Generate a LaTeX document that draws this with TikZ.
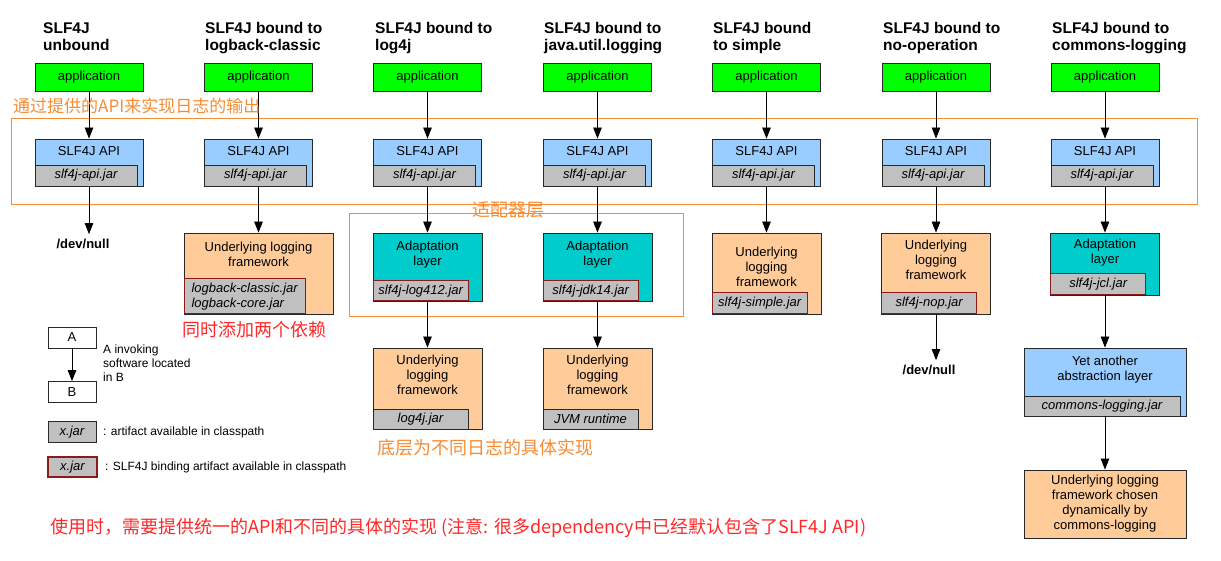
\documentclass[tikz,border=0pt]{standalone}
\usepackage{fontspec}
\setmainfont{Liberation Sans}
\newfontfamily\cjk{Noto Sans CJK SC}
\usetikzlibrary{arrows.meta,positioning}
\definecolor{appGreen}{RGB}{0,255,0}
\definecolor{apiBlue}{RGB}{153,204,255}
\definecolor{jarGray}{RGB}{192,192,192}
\definecolor{adaptTeal}{RGB}{0,204,204}
\definecolor{fwPeach}{RGB}{255,204,153}
\definecolor{bindRed}{RGB}{139,26,26}
\definecolor{boxLine}{RGB}{40,40,40}
\definecolor{markOrange}{RGB}{248,140,50}
\definecolor{markRed}{RGB}{255,40,40}
\newcommand{\boxfont}{\fontsize{13}{15}\selectfont}
\tikzset{
  outline/.style={draw=boxLine, line width=0.8pt, inner sep=0pt},
  appbox/.style={outline, fill=appGreen, minimum width=108, minimum height=28, font=\boxfont},
  apibox/.style={outline, fill=apiBlue, minimum width=108, minimum height=47},
  adaptbox/.style={outline, fill=adaptTeal, minimum width=109},
  fwbox/.style={outline, fill=fwPeach, minimum width=109},
  jarbox/.style={outline, fill=jarGray, minimum width=95, minimum height=21, font=\boxfont\itshape},
  bindjar/.style={jarbox, draw=bindRed, line width=1.2pt},
  boxtext/.style={align=center, inner sep=0pt, font=\boxfont},
  title/.style={align=left, inner sep=0pt, anchor=north west, font=\fontsize{15.5}{17}\selectfont\bfseries},
  devnull/.style={inner sep=0pt, outer ysep=5pt, font=\boxfont\bfseries},
  legend/.style={align=left, inner sep=0pt, anchor=west, font=\fontsize{12}{14}\selectfont},
  cnnote/.style={inner sep=0pt, font=\cjk\fontsize{18}{20}\selectfont},
  frame/.style={draw=markOrange, line width=0.8pt},
  arrow/.style={-{Triangle[length=11pt,width=8.5pt]}, line width=0.8pt}
}

\begin{document}
\begin{tikzpicture}[x=1pt,y=-1pt]
  \fill[white] (0,0) rectangle (1221,561);
  \useasboundingbox (0,0) rectangle (1221,561);

  % layer frames
  \draw[frame] (11,118) rectangle (1197,204);
  \draw[frame] (349,213) rectangle (683,316);

  % titles
  \node[title] (t1) at (43,22) {SLF4J\\unbound};
  \node[title] (t2) at (205,22) {SLF4J bound to\\logback-classic};
  \node[title] (t3) at (375,22) {SLF4J bound to\\log4j};
  \node[title] (t4) at (544,22) {SLF4J bound to\\java.util.logging};
  \node[title] (t5) at (713,22) {SLF4J bound\\to simple};
  \node[title] (t6) at (883,22) {SLF4J bound to\\no-operation};
  \node[title] (t7) at (1052,22) {SLF4J bound to\\commons-logging};

  % application + SLF4J API in every column
  \foreach \c/\cx in {1/89,2/258.5,3/427.5,4/597.5,5/766.5,6/936,7/1105}{
    \node[appbox] (app\c) at (\cx,77) {application};
    \node[apibox] (api\c) at (\cx,162.5) {};
    \node[boxtext] (apit\c) at (\cx,151) {SLF4J API};
    \node[jarbox, anchor=south west, minimum width=102] (apijar\c) at (api\c.south west) {slf4j-api.jar};
    \draw[arrow] (app\c) -- (api\c);
  }

  % unbound
  \node[devnull] (null1) at (83,244) {/dev/null};

  % logback
  \node[fwbox, minimum width=149, minimum height=81] (fw2) at (258.5,273.5) {};
  \node[boxtext] (fwt2) at (258.5,254.5) {Underlying logging\\framework};
  \node[bindjar, anchor=south west, minimum width=121, minimum height=35, align=left] (fwjar2) at (fw2.south west) {logback-classic.jar\\logback-core.jar};

  % log4j
  \node[adaptbox, minimum height=68] (adapt3) at (427.5,267) {};
  \node[boxtext] (adaptt3) at (427.5,254.5) {Adaptation\\layer};
  \node[bindjar, anchor=south west, minimum height=20] (adaptjar3) at (adapt3.south west) {slf4j-log412.jar};
  \node[fwbox, minimum height=81] (fw3) at (427.5,388.5) {};
  \node[boxtext] (fwt3) at (427.5,375) {Underlying\\logging\\framework};
  \node[jarbox, anchor=south west, minimum height=20] (fwjar3) at (fw3.south west) {log4j.jar};

  % java.util.logging
  \node[adaptbox, minimum height=68] (adapt4) at (597.5,267) {};
  \node[boxtext] (adaptt4) at (597.5,254.5) {Adaptation\\layer};
  \node[bindjar, anchor=south west, minimum height=20] (adaptjar4) at (adapt4.south west) {slf4j-jdk14.jar};
  \node[fwbox, minimum height=81] (fw4) at (597.5,388.5) {};
  \node[boxtext] (fwt4) at (597.5,375) {Underlying\\logging\\framework};
  \node[jarbox, anchor=south west, minimum height=20] (fwjar4) at (fw4.south west) {JVM runtime};

  % simple
  \node[fwbox, minimum height=81] (fw5) at (766.5,273.5) {};
  \node[boxtext] (fwt5) at (766.5,267) {Underlying\\logging\\framework};
  \node[bindjar, anchor=south west] (fwjar5) at (fw5.south west) {slf4j-simple.jar};

  % nop
  \node[fwbox, minimum height=81] (fw6) at (936,273.5) {};
  \node[boxtext] (fwt6) at (936,260) {Underlying\\logging\\framework};
  \node[bindjar, anchor=south west] (fwjar6) at (fw6.south west) {slf4j-nop.jar};
  \node[devnull] (null6) at (929,370) {/dev/null};

  % commons-logging
  \node[adaptbox, minimum height=62] (adapt7) at (1105,264) {};
  \node[boxtext] (adaptt7) at (1105,252.5) {Adaptation\\layer};
  \node[bindjar, anchor=south west] (adaptjar7) at (adapt7.south west) {slf4j-jcl.jar};
  \node[apibox, minimum width=162, minimum height=68] (abs7) at (1105,382) {};
  \node[boxtext] (abst7) at (1105,369.5) {Yet another\\abstraction layer};
  \node[jarbox, anchor=south west, minimum width=156, minimum height=20] (absjar7) at (abs7.south west) {commons-logging.jar};
  \node[fwbox, boxtext, minimum width=162, minimum height=68] (fw7) at (1105,504) {Underlying logging\\framework chosen\\dynamically by\\commons-logging};

  \draw[arrow] (api1.south) -- (api1.south |- null1.north);
  \draw[arrow] (api2) -- (fw2);
  \draw[arrow] (api3) -- (adapt3);
  \draw[arrow] (adapt3) -- (fw3);
  \draw[arrow] (api4) -- (adapt4);
  \draw[arrow] (adapt4) -- (fw4);
  \draw[arrow] (api5) -- (fw5);
  \draw[arrow] (api6) -- (fw6);
  \draw[arrow] (fw6.south) -- (fw6.south |- null6.north);
  \draw[arrow] (api7) -- (adapt7);
  \draw[arrow] (adapt7) -- (abs7);
  \draw[arrow] (abs7) -- (fw7);

  % legend
  \node[outline, fill=white, minimum width=48, minimum height=21, font=\boxfont] (keyA) at (72,337.5) {A};
  \node[outline, fill=white, minimum width=48, minimum height=21, font=\boxfont] (keyB) at (72,392) {B};
  \draw[arrow] (keyA) -- (keyB);
  \node[legend] (keyAB) at (103,363) {A invoking\\software located\\in B};
  \node[jarbox, minimum width=48] (keyjar) at (72,432) {x.jar};
  \node[legend] (keyjart) at (103,432) {: artifact available in classpath};
  \node[bindjar, minimum width=49, minimum height=20] (keybind) at (72.5,467) {x.jar};
  \node[legend] (keybindt) at (105,467) {: SLF4J binding artifact available in classpath};

  % notes
  \node[cnnote, anchor=west, text=markOrange, font=\cjk\fontsize{17}{19}\selectfont] (noteapi) at (13,106) {通过提供的API来实现日志的输出};
  \node[cnnote, text=markOrange] (noteadapt) at (508,210) {适配器层};
  \node[cnnote, text=markRed] (notedeps) at (254,330) {同时添加两个依赖};
  \node[cnnote, text=markOrange] (noteimpl) at (485,447.5) {底层为不同日志的具体实现};
  \node[cnnote, anchor=west, text=markRed] (noteuse) at (50,528) {使用时，需要提供统一的API和不同的具体的实现 (注意: 很多dependency中已经默认包含了SLF4J API)};
\end{tikzpicture}
\end{document}
